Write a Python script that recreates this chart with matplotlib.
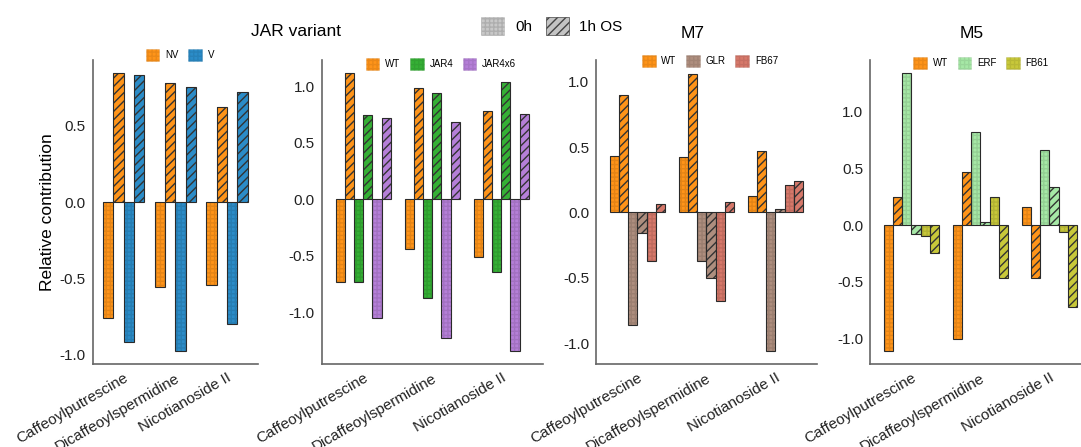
import matplotlib
matplotlib.use("Agg")
import matplotlib.pyplot as plt
import matplotlib.colors as mcolors
from matplotlib.patches import Patch
import numpy as np

plt.rcParams['font.family'] = ['Liberation Sans', 'DejaVu Sans']
plt.rcParams['axes.unicode_minus'] = False
plt.rcParams['hatch.linewidth'] = 1.0

compounds = ["Caffeoylputrescine", "Dicaffeoylspermidine", "Nicotianoside II"]
timepoints = ["0h", "1h OS"]

# Panel 1: JAR variant NV / V
p1_series = ["NV", "V"]
p1_colors = ["#FF9419", "#2B8CC8"]
p1_0h = {"NV": [-0.762, -0.557, -0.544], "V": [-0.915, -0.972, -0.797]}
p1_1h = {"NV": [0.845, 0.782, 0.624], "V": [0.830, 0.755, 0.723]}

# Panel 2: JAR variant WT / JAR4 / JAR4x6
p2_series = ["WT", "JAR4", "JAR4x6"]
p2_colors = ["#FF9419", "#35B035", "#B57FD8"]
p2_0h = {"WT": [-0.732, -0.440, -0.513], "JAR4": [-0.732, -0.876, -0.649],
         "JAR4x6": [-1.053, -1.230, -1.342]}
p2_1h = {"WT": [1.115, 0.982, 0.782], "JAR4": [0.746, 0.938, 1.038],
         "JAR4x6": [0.717, 0.681, 0.752]}

# Panel 3: M7
p3_series = ["WT", "GLR", "FB67"]
p3_colors = ["#FF9419", "#AE8E7E", "#D6786A"]
p3_0h = {"WT": [0.433, 0.425, 0.127], "GLR": [-0.858, -0.374, -1.056],
         "FB67": [-0.369, -0.674, 0.209]}
p3_1h = {"WT": [0.898, 1.059, 0.468], "GLR": [-0.158, -0.504, 0.030],
         "FB67": [0.066, 0.079, 0.239]}

# Panel 4: M5
p4_series = ["WT", "ERF", "FB61"]
p4_colors = ["#FF9419", "#A6E8A6", "#C8C83A"]
p4_0h = {"WT": [-1.109, -1.003, 0.165], "ERF": [1.341, 0.821, 0.662],
         "FB61": [-0.097, 0.253, -0.056]}
p4_1h = {"WT": [0.253, 0.474, -0.468], "ERF": [-0.079, 0.026, 0.335],
         "FB61": [-0.247, -0.468, -0.724]}

titles = ["JAR variant", "M7", "M5"]

W, H = 1081, 447
fig = plt.figure(figsize=(W / 100, H / 100), dpi=100)

def fx(px):
    return px / W

def fy(py):
    return 1 - py / H

ax_bottom = fy(364)
ax_height = fy(60) - fy(364)

panels = [
    dict(left=92.7, right=258.0, series=p1_series, colors=p1_colors, v0=p1_0h, v1=p1_1h,
         ylim=(-1.06, 0.93), yticks=[-1.0, -0.5, 0.0, 0.5], leg=(180, 55)),
    dict(left=321.7, right=542.7, series=p2_series, colors=p2_colors, v0=p2_0h, v1=p2_1h,
         ylim=(-1.46, 1.233), yticks=[-1.0, -0.5, 0.0, 0.5, 1.0], leg=(441, 64)),
    dict(left=596.0, right=816.7, series=p3_series, colors=p3_colors, v0=p3_0h, v1=p3_1h,
         ylim=(-1.158, 1.165), yticks=[-1.0, -0.5, 0.0, 0.5, 1.0], leg=(710, 61)),
    dict(left=870.0, right=1090.7, series=p4_series, colors=p4_colors, v0=p4_0h, v1=p4_1h,
         ylim=(-1.226, 1.459), yticks=[-1.0, -0.5, 0.0, 0.5, 1.0], leg=(981, 63)),
]

def darker(c, f=0.7, a=0.35):
    r, g, b = mcolors.to_rgb(c)
    return (r * f, g * f, b * f, a)

x = np.arange(len(compounds))
for i, p in enumerate(panels):
    ax = fig.add_axes([fx(p['left']), ax_bottom, fx(p['right']) - fx(p['left']), ax_height])
    n = len(p['series'])
    nb = 2 * n
    bw = 0.8 / nb
    handles = []
    for s_i, (s, col) in enumerate(zip(p['series'], p['colors'])):
        for t_i, vals in enumerate([p['v0'][s], p['v1'][s]]):
            k = 2 * s_i + t_i
            pos = x - 0.4 + bw * (k + 0.5)
            ax.bar(pos, vals, width=bw, color=col, edgecolor='none', linewidth=0, zorder=2)
            if t_i == 0:
                ax.bar(pos, vals, width=bw, fill=False, hatch='++++', edgecolor=darker(col),
                       linewidth=0, zorder=3)
            else:
                ax.bar(pos, vals, width=bw, fill=False, hatch='////', edgecolor='#333333',
                       linewidth=0, zorder=3)
            ax.bar(pos, vals, width=bw, fill=False, edgecolor='#2a2a2a', linewidth=0.8, zorder=4)
        handles.append(Patch(facecolor=col, edgecolor=darker(col, 0.75, 0.3), hatch='++++',
                             linewidth=0.5))
    ax.set_xlim(-0.6, 2.6)
    ax.set_ylim(*p['ylim'])
    ax.set_yticks(p['yticks'])
    ax.set_yticklabels([f"{v:.1f}" for v in p['yticks']], fontsize=11, color='#222222')
    ax.set_xticks(x)
    ax.set_xticklabels(compounds, rotation=30, ha='right', rotation_mode='anchor',
                       fontsize=11, color='#222222')
    ax.tick_params(axis='both', length=0, pad=5)
    for sp in ['top', 'right']:
        ax.spines[sp].set_visible(False)
    for sp in ['left', 'bottom']:
        ax.spines[sp].set_color('#666666')
        ax.spines[sp].set_linewidth(1.2)
    ax.patch.set_alpha(0)
    lx, ly = p['leg']
    ax.legend(handles, p['series'], loc='center', bbox_to_anchor=(fx(lx), fy(ly)),
              bbox_transform=fig.transFigure, ncol=n, frameon=False, fontsize=7,
              handlelength=1.4, handleheight=1.4, handletextpad=0.6, columnspacing=1.0,
              borderpad=0, borderaxespad=0)
    if i == 0:
        ax.set_ylabel("Relative contribution", fontsize=12.5, labelpad=3)

fig.text(fx(296), fy(31), titles[0], fontsize=12.5, ha='center', va='center')
fig.text(fx(693), fy(33), titles[1], fontsize=12.5, ha='center', va='center')
fig.text(fx(972), fy(33), titles[2], fontsize=12.5, ha='center', va='center')

tp_handles = [Patch(facecolor='#C8C8C8', edgecolor=(0.5, 0.5, 0.5, 0.35), hatch='++++', linewidth=0.5),
              Patch(facecolor='#C4C4C4', edgecolor='#444444', hatch='////', linewidth=0.5)]
fig.legend(tp_handles, timepoints, loc='center', bbox_to_anchor=(fx(552), fy(26)),
           ncol=2, frameon=False, fontsize=11, handlelength=1.5, handleheight=1.5,
           handletextpad=0.7, columnspacing=0.9, borderpad=0)

fig.savefig("out.png", dpi=100)
